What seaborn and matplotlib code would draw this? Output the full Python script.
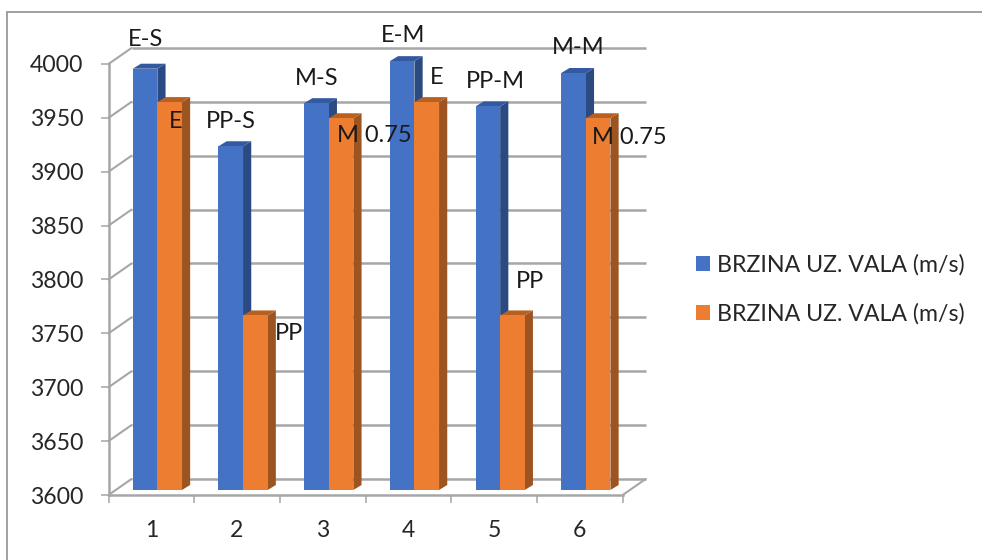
import matplotlib
matplotlib.use("Agg")
import matplotlib.pyplot as plt
from matplotlib.patches import Polygon, Rectangle
import pandas as pd
import seaborn as sns

categories = ["1", "2", "3", "4", "5", "6"]
series_a = [3991, 3919, 3959, 3998, 3956, 3987]
series_b = [3960, 3762, 3945, 3960, 3762, 3945]
y_ticks = [3600, 3650, 3700, 3750, 3800, 3850, 3900, 3950, 4000]
legend_labels = ["BRZINA UZ. VALA (m/s)", "BRZINA UZ. VALA (m/s)"]
notes = [("E-S", 146, 40), ("PP-S", 231, 121), ("M-S", 317, 79), ("E-M", 403, 35),
         ("PP-M", 495, 81), ("M-M", 578, 47), ("E", 176, 122), ("PP", 289, 333),
         ("M 0.75", 374, 135), ("E", 437, 78), ("PP", 530, 282), ("M 0.75", 629, 138)]

W, H = 982, 560
L, R, T, B = 108.5, 622.7, 64, 495
GRAY = "#A6A6A6"
FRONT = {"a": "#4472C4", "b": "#ED7D31"}
SIDE = {"a": "#2C4A82", "b": "#9C5520"}
TOP = {"a": "#335AA0", "b": "#B8601F"}

sns.set_theme(style="white")
plt.rcParams["font.family"] = ["Lato", "DejaVu Sans"]

df = pd.DataFrame({
    "cat": categories * 2,
    "value": series_a + series_b,
    "series": ["a"] * 6 + ["b"] * 6,
})

fig = plt.figure(figsize=(W / 100, H / 100), dpi=100)
ax = fig.add_axes([L / W, 1 - B / H, (R - L) / W, (B - T) / H])
sns.barplot(data=df, x="cat", y="value", hue="series", hue_order=["a", "b"],
            palette=FRONT, width=0.574, dodge=True, gap=0, saturation=1,
            errorbar=None, legend=False, ax=ax, clip_on=False, linewidth=0)
ax.set_xlim(-0.5, 5.5)
ax.set_ylim(3600, 4000)
ax.patch.set_alpha(0)

pxx = 6 / (R - L)              # data units per pixel, x
pxy = 400 / (B - T)            # data units per pixel, y
wall_dx, wall_dy = 23 * pxx, 16 * pxy


def to_data(dx, dy):
    return dx * pxx, dy * pxy


# back wall and side wall grid
for v in y_ticks:
    ax.plot([-0.5 + wall_dx, 5.5 + wall_dx], [v + wall_dy] * 2, color=GRAY, lw=1.8,
            clip_on=False, zorder=1, solid_capstyle="butt")
    ax.plot([-0.5, -0.5 + wall_dx], [v, v + wall_dy], color=GRAY, lw=1.5,
            clip_on=False, zorder=1)
ax.plot([5.5, 5.5 + wall_dx], [3600, 3600 + wall_dy], color=GRAY, lw=1.5, clip_on=False, zorder=1)

# pseudo-3D bars derived from each seaborn bar
shift_x, shift_y = to_data(6, 5)
depth_x, depth_y = to_data(8.2, 5)
order = 10
pairs = list(zip(ax.containers[0], ax.containers[1]))
for bar_a, bar_b in pairs:
    for key, bar in (("a", bar_a), ("b", bar_b)):
        v = bar.get_height()
        x0 = bar.get_x() + shift_x
        x1 = x0 + bar.get_width()
        y0 = 3600 + shift_y
        y1 = v + shift_y
        ax.add_patch(Polygon([(x1, y0), (x1 + depth_x, y0 + depth_y),
                              (x1 + depth_x, y1 + depth_y), (x1, y1)],
                             fc=SIDE[key], ec="none", clip_on=False, zorder=order))
        ax.add_patch(Polygon([(x0, y1), (x1, y1), (x1 + depth_x, y1 + depth_y),
                              (x0 + depth_x, y1 + depth_y)],
                             fc=TOP[key], ec="none", clip_on=False, zorder=order))
        bar.set_x(x0)
        bar.set_y(y0)
        bar.set_height(v - 3600)
        bar.set_zorder(order + 1)
        order += 2

ax.set_yticks(y_ticks)
ax.set_xlabel("")
ax.set_ylabel("")
for s in ("top", "right"):
    ax.spines[s].set_visible(False)
for s in ("left", "bottom"):
    ax.spines[s].set_color(GRAY)
    ax.spines[s].set_linewidth(1.8)
ax.tick_params(axis="y", left=True, length=5.5, width=1.1, color=GRAY, pad=12.5,
               labelsize=16.6, labelcolor="#262626")
ax.set_xticks([i - 0.5 for i in range(7)], minor=True)
ax.tick_params(axis="x", which="minor", bottom=True, length=5.5, width=1.1, color=GRAY)
ax.tick_params(axis="x", which="major", bottom=False, pad=12, labelsize=16.6, labelcolor="#262626")
ax.grid(False)

handles = [Rectangle((0, 0), 1, 1, fc=FRONT[k], ec="none") for k in ("a", "b")]
fig.legend(handles, legend_labels, loc="center left",
           bbox_to_anchor=(695.5 / W, 1 - 289 / H), frameon=False, fontsize=16.7,
           labelcolor="#262626", handlelength=0.62, handleheight=0.62,
           handletextpad=0.32, labelspacing=1.18, borderpad=0, borderaxespad=0)

for text, px, py in notes:
    fig.text(px / W, 1 - py / H, text, ha="center", va="center", fontsize=17, color="#1a1a1a", zorder=50)

# outer chart frame
for xs, ys in (([7, 7], [12, 560]), ([7, 982], [12, 12])):
    fig.add_artist(plt.Line2D([x / W for x in xs], [1 - y / H for y in ys], color="#A0A0A0", lw=1.4))

fig.savefig("out.png", dpi=100)
